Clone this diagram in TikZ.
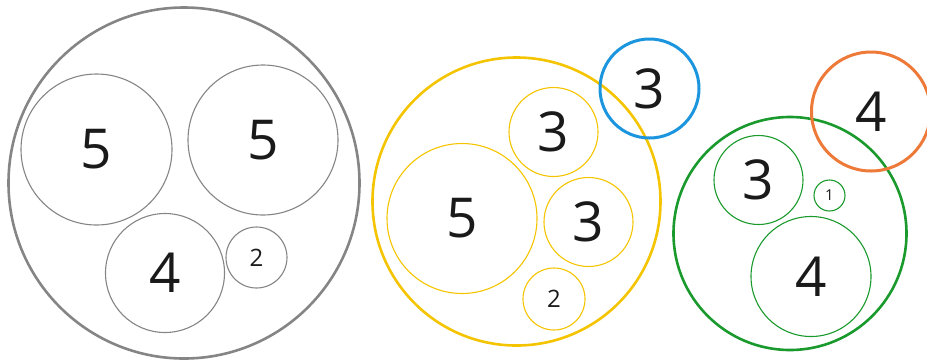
\documentclass[tikz,border=0pt]{standalone}
\usepackage{fontspec}
\setmainfont{Open Sans}
\definecolor{cgrey}{HTML}{858585}
\definecolor{cyellow}{HTML}{F5C400}
\definecolor{cblue}{HTML}{1B95DE}
\definecolor{cgreen}{HTML}{1A9A2C}
\definecolor{corange}{HTML}{EE7A3A}
\definecolor{ctext}{HTML}{1A1A1A}
\begin{document}
\begin{tikzpicture}[x=1pt,y=-1pt,
  outer/.style={circle,draw,line width=2.6pt,inner sep=0pt},
  inner/.style={circle,draw,line width=1.1pt,inner sep=0pt},
  big/.style={font=\fontsize{55}{55}\selectfont,text=ctext},
  small/.style={font=\fontsize{24}{24}\selectfont,text=ctext},
  tiny/.style={font=\fontsize{15}{15}\selectfont,text=ctext}]
\useasboundingbox (0,0) rectangle (927,360);
% grey group
\node[outer,cgrey,minimum size=351pt] (G) at (184,183) {};
\node[inner,cgrey,minimum size=151pt,big] (G5a) at (96.5,149.5) {5};
\node[inner,cgrey,minimum size=150pt,big] (G5b) at (263,140) {5};
\node[inner,cgrey,minimum size=119pt,big] (G4) at (165,273) {4};
\node[inner,cgrey,minimum size=61pt,small] (G2) at (256.5,257.5) {2};
% yellow group
\node[outer,cyellow,minimum size=288pt] (Y) at (516.5,201.5) {};
\node[inner,cyellow,minimum size=150pt,big] (Y5) at (462,218.5) {5};
\node[inner,cyellow,minimum size=89pt,big] (Y3a) at (553.5,132) {3};
\node[inner,cyellow,minimum size=89pt,big] (Y3b) at (588.5,222) {3};
\node[inner,cyellow,minimum size=62pt,small] (Y2) at (554,299) {2};
\node[outer,cblue,line width=3pt,minimum size=99pt,big] (B3) at (649.5,88.5) {3};
% green group
\node[outer,cgreen,minimum size=233pt] (Gr) at (790,233.5) {};
\node[inner,cgreen,minimum size=89pt,big] (Gr3) at (758.5,180) {3};
\node[inner,cgreen,minimum size=31pt,tiny] (Gr1) at (829.5,195.5) {1};
\node[inner,cgreen,minimum size=120pt,big] (Gr4) at (811,276.5) {4};
\node[outer,corange,line width=3pt,minimum size=119pt,big] (O4) at (871,111.5) {4};
\end{tikzpicture}
\end{document}
